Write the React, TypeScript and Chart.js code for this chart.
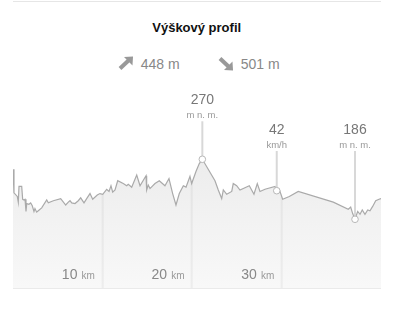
import React, { useEffect, useRef } from "react";
import { Chart, registerables } from "chart.js";

Chart.register(...registerables);

// Distance along the route (km)
const distanceKm = [
  0.0, 0.11, 0.48, 0.59, 0.67, 0.97, 1.08, 1.23, 1.34, 1.45, 1.53, 1.78, 1.97, 2.15, 2.34, 2.45, 2.64, 2.82,
  3.2, 3.76, 3.94, 4.5, 5.32, 5.88, 6.17, 6.36, 6.55, 6.92, 7.28, 7.55, 7.92, 8.22, 8.59, 8.89, 9.4, 9.7,
  10.01, 10.45, 10.71, 10.93, 11.12, 11.38, 11.68, 12.3, 12.68, 12.86, 13.24, 13.8, 14.17, 14.84, 14.91,
  15.09, 15.28, 15.84, 16.32, 16.95, 17.4, 17.81, 18.18, 18.55, 19.0, 19.3, 19.74, 19.93, 20.41, 20.78,
  21.12, 22.53, 22.9, 23.28, 23.46, 23.84, 24.4, 24.57, 24.95, 25.32, 26.36, 26.88, 27.25, 27.55, 28.11,
  29.23, 29.42, 29.7, 30.08, 30.82, 31.82, 35.73, 37.4, 37.67, 37.89, 38.15, 38.45, 38.71, 38.96, 39.26,
  39.57, 39.82, 40.12, 40.46, 40.83, 41.05,
];

// Elevation (m n. m.)
const elevationM = [
  256, 223, 218, 210, 232, 232, 214, 213, 214, 197, 208, 207, 209, 205, 197, 201, 196, 198,
  202, 213, 209, 212, 215, 206, 210, 212, 209, 208, 212, 216, 209, 215, 222, 214, 220, 222,
  221, 228, 225, 233, 224, 227, 240, 236, 233, 235, 231, 248, 233, 247, 227,
  234, 229, 236, 240, 233, 243, 222, 206, 222, 233, 231, 246, 236, 253, 264,
  270, 240, 227, 215, 227, 221, 225, 236, 233, 227, 233, 221, 236, 225, 228,
  232, 226, 228, 214, 218, 225, 210, 200, 203, 194, 186, 197, 193, 199, 193,
  199, 198, 204, 212, 214, 215,
];

// Distance grid / tick labels
const gridKm = [10, 20, 30];
const gridLabels = ["10", "20", "30"];
const gridUnit = "km";

// Highlighted markers
const markerKm = [21.12, 29.42, 38.15];
const markerElev = [270, 226, 186];
const markerValues = ["270", "42", "186"];
const markerUnits = ["m n. m.", "km/h", "m n. m."];

// Summary
const totalAscent = "448 m";
const totalDescent = "501 m";
const titleText = "Výškový profil";

const FONT = '"Liberation Sans", Arial, sans-serif';

const ArrowUp = () => (
  <svg width="16" height="14" viewBox="0 0 16 14" style={{ position: "absolute", left: 118, top: 56 }}>
    <line x1="2" y1="12.5" x2="10.5" y2="4.5" stroke="#999" strokeWidth="4" />
    <polygon points="6,1 15,0.5 14.5,9.5" fill="#999" />
  </svg>
);

const ArrowDown = () => (
  <svg width="16" height="14" viewBox="0 0 16 14" style={{ position: "absolute", left: 218, top: 57 }}>
    <line x1="2" y1="1.5" x2="10.5" y2="9.5" stroke="#999" strokeWidth="4" />
    <polygon points="6,13 15,13.5 14.5,4.5" fill="#999" />
  </svg>
);

export default function App() {
  const canvasRef = useRef<HTMLCanvasElement | null>(null);

  useEffect(() => {
    const canvas = canvasRef.current;
    if (!canvas) return;
    const points = distanceKm.map((x, i) => ({ x, y: elevationM[i] }));

    const overlay = {
      id: "profileOverlay",
      afterDatasetDraw(chart: any, args: any) {
        if (args.index !== 1) return;
        const { ctx, chartArea, scales } = chart;
        ctx.save();
        ctx.globalCompositeOperation = "source-atop";
        ctx.strokeStyle = "rgba(0,0,0,0.045)";
        ctx.lineWidth = 2;
        gridKm.forEach((km) => {
          const x = Math.round(scales.x.getPixelForValue(km)) - 0.3;
          ctx.beginPath();
          ctx.moveTo(x, chartArea.top);
          ctx.lineTo(x, chartArea.bottom);
          ctx.stroke();
        });
        ctx.restore();
      },
      afterDraw(chart: any) {
        const { ctx, scales } = chart;
        ctx.save();
        // distance labels
        gridKm.forEach((km, i) => {
          const x = scales.x.getPixelForValue(km);
          const base = 194;
          ctx.textBaseline = "alphabetic";
          ctx.textAlign = "right";
          ctx.font = `10px ${FONT}`;
          ctx.fillStyle = "#999";
          const right = x - 7.7;
          ctx.fillText(gridUnit, right, base);
          const uw = ctx.measureText(gridUnit).width;
          ctx.font = `14px ${FONT}`;
          ctx.fillStyle = "#888";
          ctx.fillText(gridLabels[i], right - uw - 4.2, base);
        });
        // markers
        markerKm.forEach((km, i) => {
          const x = scales.x.getPixelForValue(km);
          const y = scales.y.getPixelForValue(markerElev[i]);
          const base = Math.min(y - 55, 49);
          const r = 3.3;
          ctx.strokeStyle = "#d8d8d8";
          ctx.lineWidth = 2;
          ctx.beginPath();
          ctx.moveTo(x, base + 17);
          ctx.lineTo(x, y - r);
          ctx.stroke();
          ctx.beginPath();
          ctx.arc(x, y, r, 0, Math.PI * 2);
          ctx.fillStyle = "#fff";
          ctx.fill();
          ctx.strokeStyle = "#b8b8b8";
          ctx.lineWidth = 1;
          ctx.stroke();
          ctx.textAlign = "center";
          ctx.font = `14px ${FONT}`;
          ctx.fillStyle = "#777";
          ctx.fillText(markerValues[i], x, base);
          ctx.font = `9.5px ${FONT}`;
          ctx.fillStyle = "#999";
          ctx.fillText(markerUnits[i], x, base + 13.5);
        });
        ctx.restore();
      },
    };

    const chart = new Chart(canvas, {
      type: "line",
      data: {
        datasets: [
          {
            data: points,
            borderColor: "#aaaaaa",
            borderWidth: 1.2,
            pointRadius: 0,
            fill: false,
            tension: 0,
          },
          {
            data: points,
            borderWidth: 0,
            borderColor: "rgba(0,0,0,0)",
            pointRadius: 0,
            tension: 0,
            fill: "start",
            backgroundColor: (context: any) => {
              const { ctx, chartArea } = context.chart;
              if (!chartArea) return "#eeeeee";
              const g = ctx.createLinearGradient(0, chartArea.top, 0, chartArea.bottom);
              g.addColorStop(0, "#e6e6e6");
              g.addColorStop(1, "#f8f8f8");
              return g;
            },
          },
        ],
      },
      options: {
        animation: false,
        responsive: false,
        maintainAspectRatio: false,
        devicePixelRatio: 1,
        layout: { padding: 0 },
        events: [],
        plugins: { legend: { display: false }, tooltip: { enabled: false } },
        scales: {
          x: { type: "linear", min: 0, max: 41.05, display: false },
          y: { type: "linear", min: 89.8, max: 374, display: false },
        },
      },
      plugins: [overlay],
    });
    return () => chart.destroy();
  }, []);

  return (
    <div style={{ position: "absolute", left: 0, top: 0, width: 397, height: 309, background: "#fff", fontFamily: FONT }}>
      <div style={{ position: "absolute", left: 13, top: 1, width: 368, height: 1, background: "#e6e6e6" }} />
      <div
        style={{
          position: "absolute",
          left: 0,
          width: 393.4,
          top: 21.3,
          textAlign: "center",
          fontSize: 13,
          lineHeight: "13px",
          fontWeight: "bold",
          color: "#111",
          whiteSpace: "nowrap",
        }}
      >
        {titleText}
      </div>
      <ArrowUp />
      <div style={{ position: "absolute", left: 140.7, top: 57.2, fontSize: 14, lineHeight: "14px", color: "#888", whiteSpace: "nowrap" }}>
        {totalAscent}
      </div>
      <ArrowDown />
      <div style={{ position: "absolute", left: 240.7, top: 57.2, fontSize: 14, lineHeight: "14px", color: "#888", whiteSpace: "nowrap" }}>
        {totalDescent}
      </div>
      <canvas ref={canvasRef} width={368} height={203} style={{ position: "absolute", left: 13, top: 85, width: 368, height: 203 }} />
      <div style={{ position: "absolute", left: 13, top: 288, width: 368, height: 1, background: "#eaeaea" }} />
    </div>
  );
}
